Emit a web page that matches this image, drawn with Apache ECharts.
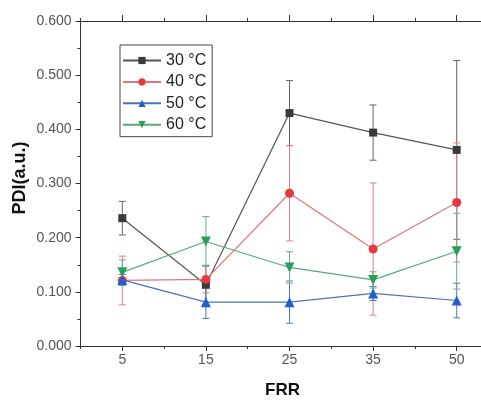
<!DOCTYPE html>
<html><head><meta charset="utf-8">
<script src="https://cdn.jsdelivr.net/npm/echarts@6/dist/echarts.min.js"></script>
<style>html,body{margin:0;padding:0;background:#fff}#c{width:481px;height:403px}</style>
</head><body><div id="c"></div>
<script>
var categories = ['5', '15', '25', '35', '50'];
var seriesNames = ['30 °C', '40 °C', '50 °C', '60 °C'];
var pdi30 = [0.236, 0.113, 0.430, 0.394, 0.362];
var err30 = [0.031, 0.036, 0.060, 0.051, 0.165];
var pdi40 = [0.121, 0.123, 0.282, 0.179, 0.265];
var err40 = [0.045, 0.025, 0.088, 0.122, 0.110];
var pdi50 = [0.122, 0.081, 0.081, 0.097, 0.084];
var err50 = [0.010, 0.030, 0.039, 0.013, 0.032];
var pdi60 = [0.136, 0.193, 0.145, 0.122, 0.175];
var err60 = [0.023, 0.046, 0.029, 0.015, 0.070];

var values = [pdi30, pdi40, pdi50, pdi60];
var errors = [err30, err40, err50, err60];
var markerColors = ['#3a3a3a', '#e8373e', '#1f5fd0', '#2a9d5c'];
var lineColors = ['#555555', '#d9787c', '#4a72b8', '#5aa87a'];
var errColors = ['#666666', '#e07f83', '#4f78bd', '#66b085'];
var symbols = ['rect', 'circle', 'triangle', 'path://M0,0 L10,0 L5,9 Z'];
var symbolSizes = [8, 9, 10, 10];

var chart = echarts.init(document.getElementById('c'), null, {renderer: 'canvas'});
var FONT = 'Liberation Sans, Arial, sans-serif';

var series = [];
values.forEach(function (vals, si) {
  var errData = vals.map(function (v, i) { return [i, v - errors[si][i], v + errors[si][i]]; });
  series.push({
    type: 'custom',
    name: seriesNames[si] + ' err',
    xAxisIndex: 0, yAxisIndex: 0,
    z: 1,
    silent: true,
    data: errData,
    renderItem: function (params, api) {
      var x = api.value(0);
      var lo = api.coord([x, api.value(1)]);
      var hi = api.coord([x, api.value(2)]);
      var w = 3.5;
      var st = {stroke: errColors[si], lineWidth: 1};
      return {
        type: 'group',
        children: [
          {type: 'line', shape: {x1: lo[0], y1: lo[1], x2: hi[0], y2: hi[1]}, style: st},
          {type: 'line', shape: {x1: lo[0] - w, y1: lo[1], x2: lo[0] + w, y2: lo[1]}, style: st},
          {type: 'line', shape: {x1: hi[0] - w, y1: hi[1], x2: hi[0] + w, y2: hi[1]}, style: st}
        ]
      };
    }
  });
});
values.forEach(function (vals, si) {
  series.push({
    type: 'line',
    name: seriesNames[si],
    xAxisIndex: 0, yAxisIndex: 0,
    z: 3,
    data: vals,
    symbol: symbols[si],
    symbolSize: symbolSizes[si],
    showAllSymbol: true,
    itemStyle: {color: markerColors[si], borderWidth: 0},
    lineStyle: {color: lineColors[si], width: 1.2},
    emphasis: {disabled: true}
  });
});

var axisLineStyle = {color: '#333', width: 1};
var option = {
  animation: false,
  backgroundColor: '#fff',
  grid: {left: 80.5, top: 21, height: 325, width: 418, containLabel: false, outerBoundsMode: 'none'},
  legend: {
    data: seriesNames,
    orient: 'vertical',
    left: 120, top: 45,
    padding: [7.5, 6, 4, 2],
    itemWidth: 38, itemHeight: 9, itemGap: 5.4,
    borderColor: '#444', borderWidth: 1,
    textStyle: {fontFamily: FONT, fontSize: 16, color: '#222'},
    selectedMode: false
  },
  xAxis: [
    {type: 'category', data: categories, position: 'bottom', gridIndex: 0,
     axisLine: {show: true, lineStyle: axisLineStyle},
     axisTick: {show: true, alignWithLabel: true, length: 5, lineStyle: axisLineStyle},
     axisLabel: {fontFamily: FONT, fontSize: 14, color: '#555', margin: 7},
     splitLine: {show: false},
     name: 'FRR', nameLocation: 'middle', nameGap: 36,
     nameTextStyle: {fontFamily: FONT, fontSize: 17, fontWeight: 'bold', color: '#111', padding: [0, 14, 0, 0]}},
    {type: 'category', data: categories, position: 'bottom', gridIndex: 0,
     axisLine: {show: false}, axisTick: {show: true, length: 3, lineStyle: axisLineStyle},
     axisLabel: {show: false}, splitLine: {show: false}},
    {type: 'category', data: categories, position: 'top', gridIndex: 0,
     axisLine: {show: true, lineStyle: axisLineStyle},
     axisTick: {show: true, alignWithLabel: true, length: 6, lineStyle: axisLineStyle},
     axisLabel: {show: false}, splitLine: {show: false}},
    {type: 'category', data: categories, position: 'top', gridIndex: 0,
     axisLine: {show: false}, axisTick: {show: true, length: 3, lineStyle: axisLineStyle},
     axisLabel: {show: false}, splitLine: {show: false}}
  ],
  yAxis: {
    type: 'value', min: 0, max: 0.6, interval: 0.1,
    axisLine: {show: true, lineStyle: axisLineStyle},
    axisTick: {show: true, length: 5, lineStyle: axisLineStyle},
    minorTick: {show: true, splitNumber: 2, length: 3, lineStyle: axisLineStyle},
    splitLine: {show: false}, minorSplitLine: {show: false},
    axisLabel: {fontFamily: FONT, fontSize: 14, color: '#555', margin: 9,
      formatter: function (v) { return v.toFixed(3); }},
    name: 'PDI(a.u.)', nameLocation: 'middle', nameGap: 51, nameMoveOverlap: false,
    nameTextStyle: {fontFamily: FONT, fontSize: 18, fontWeight: 'bold', color: '#111', padding: [0, 0, 0, 11]}
  },
  series: series
};
chart.setOption(option);
</script>
</body></html>
